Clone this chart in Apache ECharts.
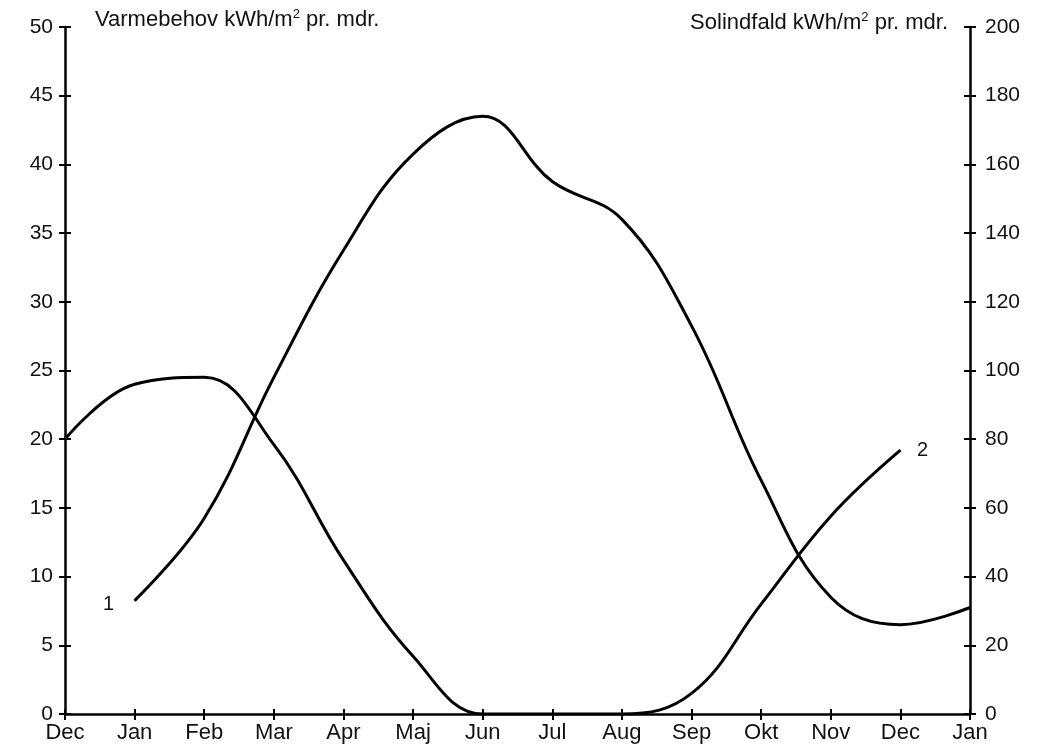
<!DOCTYPE html>
<html>
<head>
<meta charset="utf-8">
<script src="https://cdn.jsdelivr.net/npm/echarts@6/dist/echarts.min.js"></script>
<style>html,body{margin:0;padding:0;background:#fff}#c{width:1039px;height:749px}</style>
</head>
<body>
<div id="c"></div>
<script>
var months = ['Dec','Jan','Feb','Mar','Apr','Maj','Jun','Jul','Aug','Sep','Okt','Nov','Dec','Jan'];
// Curve 2: Varmebehov (left axis, kWh/m² pr. mdr.)
var varmebehov = [20.0, 24.0, 24.5, 19.6, 11.2, 4.2, 0, 0, 0, 1.5, 8.0, 14.4, 19.2, null];
// Curve 1: Solindfald (right axis, kWh/m² pr. mdr.)
var solindfald = [null, 33, 57, 98, 135, 163, 174, 155, 144, 113, 68, 34, 26, 31];
var leftTicks = {min: 0, max: 50, interval: 5};
var rightTicks = {min: 0, max: 200, interval: 20};
var leftTitle = 'Varmebehov kWh/m{sup|2} pr. mdr.';
var rightTitle = 'Solindfald kWh/m{sup|2} pr. mdr.';
var curveLabels = {varmebehov: {index: 12, text: '2'}, solindfald: {index: 1, text: '1'}};

var FONT = 'Liberation Sans, Arial, sans-serif';
var chart = echarts.init(document.getElementById('c'), null, {renderer: 'canvas'});
var grid = {left: 65, right: 69, top: 27, bottom: 35};
var axisLineStyle = {color: '#000', width: 2.5};
var richSup = {sup: {fontSize: 13, fontFamily: FONT, color: '#111', verticalAlign: 'top', padding: [0, 0, 11, 0]}};

function withLabel(arr, cfg, position, offset) {
  return arr.map(function (v, i) {
    if (i !== cfg.index) return v;
    return {value: v, label: {show: true, position: position, distance: 12, offset: offset,
      fontFamily: FONT, fontSize: 20, color: '#111', formatter: cfg.text}};
  });
}

chart.setOption({
  animation: false,
  backgroundColor: '#fff',
  grid: grid,
  xAxis: [{
    type: 'category', data: months, boundaryGap: false,
    axisLine: {lineStyle: axisLineStyle},
    axisTick: {show: true, length: 6, lineStyle: {color: '#000', width: 2}},
    axisLabel: {margin: 8, interval: 0, color: '#111', fontFamily: FONT, fontSize: 22},
    splitLine: {show: false}
  }, {
    type: 'category', data: months, boundaryGap: false, position: 'bottom',
    axisLine: {show: false},
    axisTick: {show: true, inside: true, length: 5, lineStyle: {color: '#000', width: 2}},
    axisLabel: {show: false}, splitLine: {show: false}
  }],
  yAxis: [{
    type: 'value', position: 'left', min: leftTicks.min, max: leftTicks.max, interval: leftTicks.interval,
    axisLine: {show: true, lineStyle: axisLineStyle},
    axisTick: {show: true, length: 6, lineStyle: {color: '#000', width: 2}},
    axisLabel: {margin: 12, color: '#111', fontFamily: FONT, fontSize: 21},
    splitLine: {show: false}
  }, {
    type: 'value', position: 'right', min: rightTicks.min, max: rightTicks.max, interval: rightTicks.interval,
    axisLine: {show: true, lineStyle: axisLineStyle},
    axisTick: {show: true, length: 6, lineStyle: {color: '#000', width: 2}},
    axisLabel: {margin: 15, color: '#111', fontFamily: FONT, fontSize: 21},
    splitLine: {show: false}
  }, {
    type: 'value', position: 'left', min: leftTicks.min, max: leftTicks.max, interval: leftTicks.interval,
    axisLine: {show: false},
    axisTick: {show: true, inside: true, length: 6, lineStyle: {color: '#000', width: 2}},
    axisLabel: {show: false}, splitLine: {show: false}
  }, {
    type: 'value', position: 'right', min: rightTicks.min, max: rightTicks.max, interval: rightTicks.interval,
    axisLine: {show: false},
    axisTick: {show: true, inside: true, length: 6, lineStyle: {color: '#000', width: 2}},
    axisLabel: {show: false}, splitLine: {show: false}
  }],
  graphic: [{
    type: 'text', left: 95, top: 8,
    style: {text: leftTitle, fontFamily: FONT, fontSize: 22, fill: '#111', rich: richSup}
  }, {
    type: 'text', right: 91, top: 11,
    style: {text: rightTitle, fontFamily: FONT, fontSize: 22, fill: '#111', rich: richSup}
  }],
  series: [{
    name: 'Varmebehov', type: 'line', xAxisIndex: 0, yAxisIndex: 0,
    data: withLabel(varmebehov, curveLabels.varmebehov, 'right', [4, 0]),
    smooth: 0.4, symbol: 'circle', symbolSize: 1, showSymbol: true, connectNulls: false,
    itemStyle: {color: '#000'},
    lineStyle: {color: '#000', width: 3}
  }, {
    name: 'Solindfald', type: 'line', xAxisIndex: 0, yAxisIndex: 1,
    data: withLabel(solindfald, curveLabels.solindfald, 'left', [-8, 4]),
    smooth: 0.4, symbol: 'circle', symbolSize: 1, showSymbol: true, connectNulls: false,
    itemStyle: {color: '#000'},
    lineStyle: {color: '#000', width: 3}
  }]
});
</script>
</body>
</html>
